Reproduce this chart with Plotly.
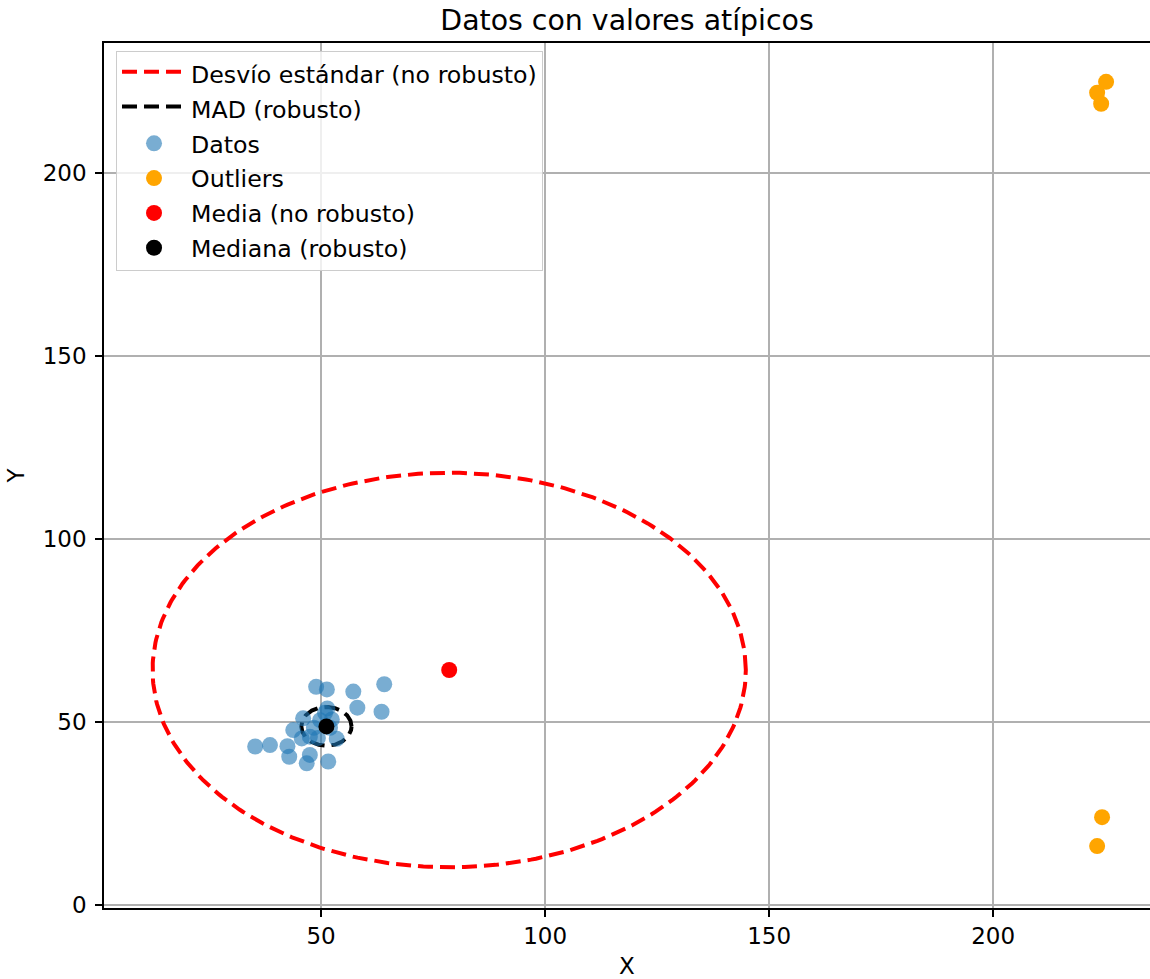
import numpy as np
import plotly.graph_objects as go

# Inlier sample
datos_x = [48.9, 51.3, 57.2, 64.1, 58.1, 63.5, 51.4, 46.0, 52.4, 43.8,
           45.7, 47.5, 53.5, 35.3, 38.6, 42.5, 42.9, 47.5, 46.8, 51.6,
           49.8, 48.4, 50.9, 49.3, 52.0]
datos_y = [59.6, 58.9, 58.3, 60.3, 53.9, 52.8, 53.7, 51.0, 50.7, 47.8,
           45.5, 46.0, 45.4, 43.3, 43.7, 43.4, 40.5, 41.0, 38.7, 39.2,
           50.5, 48.4, 52.5, 45.6, 48.4]

# Contaminating points
outliers_x = [223.2, 225.2, 224.1, 224.3, 223.2]
outliers_y = [221.9, 224.9, 218.9, 24.0, 16.1]

# Location / scale estimates
media = (78.6, 64.2)
desvio = (66.2, 53.9)
mediana = (51.2, 48.8)
mad = (5.6, 5.3)

x_ticks = [50, 100, 150, 200]
y_ticks = [0, 50, 100, 150, 200]

FONT = "DejaVu Sans"
t = np.linspace(0, 2 * np.pi, 361)


def ellipse(center, radii):
    return center[0] + radii[0] * np.cos(t), center[1] + radii[1] * np.sin(t)


fig = go.Figure()

ex, ey = ellipse(media, desvio)
fig.add_trace(go.Scatter(
    x=ex, y=ey, mode="lines", fill="toself", fillcolor="rgba(0,0,0,0)",
    line=dict(color="red", width=4, dash="15px,7px"),
    name="Desvío estándar (no robusto)", legendgroup="a", hoverinfo="skip"))

mx, my = ellipse(mediana, mad)
fig.add_trace(go.Scatter(
    x=mx, y=my, mode="lines", fill="toself", fillcolor="rgba(0,0,0,0)",
    line=dict(color="black", width=4, dash="15px,7px"),
    name="MAD (robusto)", legendgroup="b", hoverinfo="skip"))

fig.add_trace(go.Scatter(
    x=datos_x, y=datos_y, mode="markers", name="Datos", legendgroup="c",
    marker=dict(color="#1f77b4", opacity=0.6, size=16, line=dict(width=0))))

fig.add_trace(go.Scatter(
    x=outliers_x, y=outliers_y, mode="markers", name="Outliers", legendgroup="d",
    marker=dict(color="orange", size=16, line=dict(width=0))))

fig.add_trace(go.Scatter(
    x=[media[0]], y=[media[1]], mode="markers", name="Media (no robusto)",
    legendgroup="e", marker=dict(color="red", size=16, line=dict(width=0))))

fig.add_trace(go.Scatter(
    x=[mediana[0]], y=[mediana[1]], mode="markers", name="Mediana (robusto)",
    legendgroup="f", marker=dict(color="black", size=16, line=dict(width=0))))

axis_common = dict(
    showgrid=True, gridcolor="#b0b0b0", gridwidth=1.6,
    showline=True, linecolor="black", linewidth=1.7,
    ticks="outside", ticklen=7, tickwidth=1.7, tickcolor="black",
    zeroline=False, tickfont=dict(family=FONT, size=23, color="black"),
)

fig.update_layout(
    width=1150, height=979,
    margin=dict(l=104, r=0, t=43, b=71),
    paper_bgcolor="white", plot_bgcolor="white",
    font=dict(family=FONT, size=23, color="black"),
    title=dict(text="Datos con valores atípicos", x=(104 + 1150) / 2 / 1150,
               xanchor="center", y=1 - 20 / 979, yanchor="middle",
               font=dict(family=FONT, size=28.4, color="black")),
    xaxis=dict(range=[1.56, 235.0], tickvals=x_ticks, mirror=True,
               title=dict(text="X", standoff=9, font=dict(size=23)),
               **axis_common),
    yaxis=dict(range=[-0.82, 235.5], tickvals=y_ticks, ticklabelstandoff=4,
               title=dict(text="Y", standoff=12, font=dict(size=23)),
               **axis_common),
    legend=dict(x=0.0115, y=0.991, xanchor="left", yanchor="top",
                bgcolor="rgba(255,255,255,0.8)", bordercolor="#cccccc",
                borderwidth=1, traceorder="grouped", tracegroupgap=1,
                font=dict(family=FONT, size=23.7, color="black"),
                itemwidth=64),
    showlegend=True,
)

fig.write_html("out.html")
